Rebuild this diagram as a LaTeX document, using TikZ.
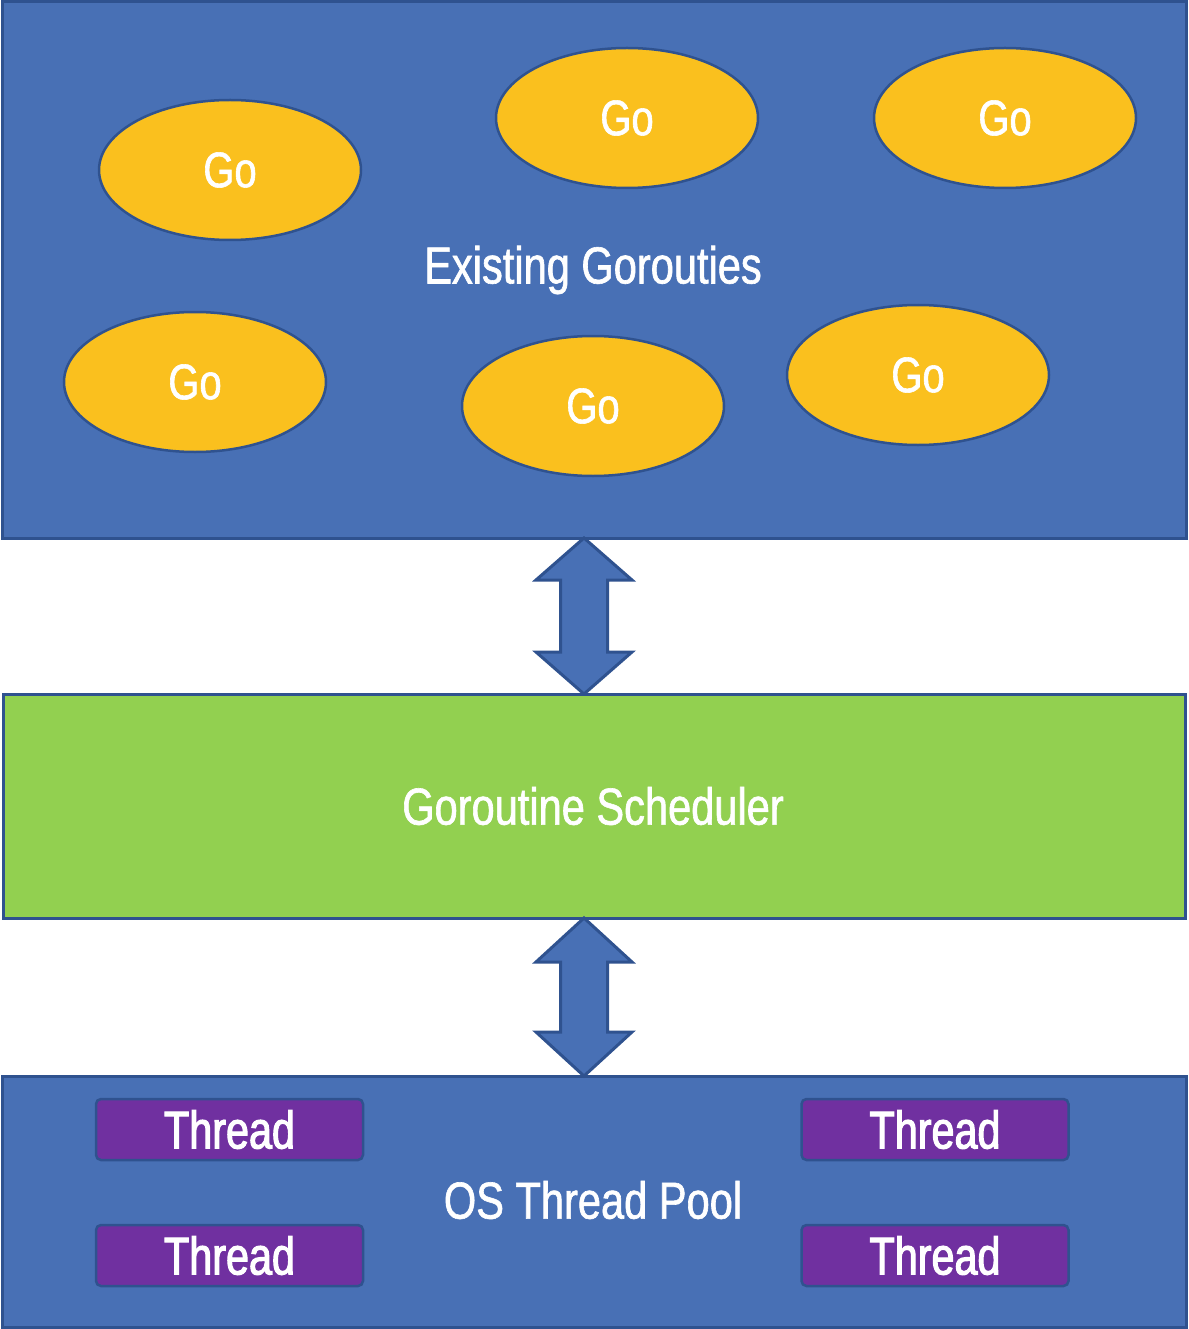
\documentclass[tikz,border=0pt]{standalone}
\usepackage{fontspec}
\setmainfont{Liberation Sans}[FakeStretch=0.8, FakeBold=1.2]
\newfontfamily\thfont{Liberation Sans}[FakeStretch=0.78, FakeBold=2]
\usetikzlibrary{shapes.geometric,calc}
\definecolor{boxblue}{HTML}{4870B5}
\definecolor{edgeblue}{HTML}{2F528F}
\definecolor{goyellow}{HTML}{FAC01E}
\definecolor{schedgreen}{HTML}{92D050}
\definecolor{thpurple}{HTML}{7030A0}
\tikzset{
  panel/.style={draw=edgeblue, line width=3pt, fill=boxblue, inner sep=0pt},
  gonode/.style={ellipse, draw=edgeblue, line width=2.5pt, fill=goyellow, minimum width=262pt, minimum height=140pt, text=white, font=\fontsize{50}{52}\selectfont, inner sep=0pt},
  thnode/.style={draw=edgeblue, line width=2.5pt, fill=thpurple, rounded corners=5pt, minimum width=267pt, minimum height=61pt, text=white, font=\thfont\fontsize{53}{55}\selectfont, inner sep=0pt},
  lbl/.style={text=white, font=\fontsize{52}{54}\selectfont},
  dblarrow/.style={draw=edgeblue, line width=3pt, fill=boxblue, line join=miter},
}
\begin{document}
\begin{tikzpicture}[x=1pt,y=-1pt]
\useasboundingbox (0,0) rectangle (1188,1329);
% panels
\path[panel] (2,2) rectangle (1186,538);
\coordinate (topS) at (584,538);
\path[draw=edgeblue, line width=3pt, fill=schedgreen] (3,694) rectangle (1185,918);
\coordinate (grnN) at (584,694);
\coordinate (grnS) at (584,918);
\path[panel] (2,1076) rectangle (1186,1327);
\coordinate (botN) at (584,1076);
% labels
\node[lbl] (existing) at (593,270) {Existing Gorouties};
\node[lbl] (sched) at (593,806) {Goroutine Scheduler};
\node[lbl] (pool) at (593,1200) {OS Thread Pool};
% goroutines
\node[gonode] (g1) at (230,170) {Go};
\node[gonode] (g2) at (627,118) {Go};
\node[gonode] (g3) at (1005,118) {Go};
\node[gonode] (g4) at (195,382) {Go};
\node[gonode] (g5) at (593,406) {Go};
\node[gonode] (g6) at (918,375) {Go};
% threads
\node[thnode] (t1) at (229.5,1129.5) {Thread};
\node[thnode] (t2) at (935,1129.5) {Thread};
\node[thnode] (t3) at (229.5,1255.5) {Thread};
\node[thnode] (t4) at (935,1255.5) {Thread};
% double arrows
\path[dblarrow] (topS) -- ($(topS)+(48,42)$) -- ($(topS)+(23.5,42)$) -- ($(grnN)+(23.5,-42)$) -- ($(grnN)+(48,-42)$) -- (grnN) -- ($(grnN)+(-48,-42)$) -- ($(grnN)+(-23.5,-42)$) -- ($(topS)+(-23.5,42)$) -- ($(topS)+(-48,42)$) -- cycle;
\path[dblarrow] (grnS) -- ($(grnS)+(48,44)$) -- ($(grnS)+(23.5,44)$) -- ($(botN)+(23.5,-44)$) -- ($(botN)+(48,-44)$) -- (botN) -- ($(botN)+(-48,-44)$) -- ($(botN)+(-23.5,-44)$) -- ($(grnS)+(-23.5,44)$) -- ($(grnS)+(-48,44)$) -- cycle;
\end{tikzpicture}
\end{document}
